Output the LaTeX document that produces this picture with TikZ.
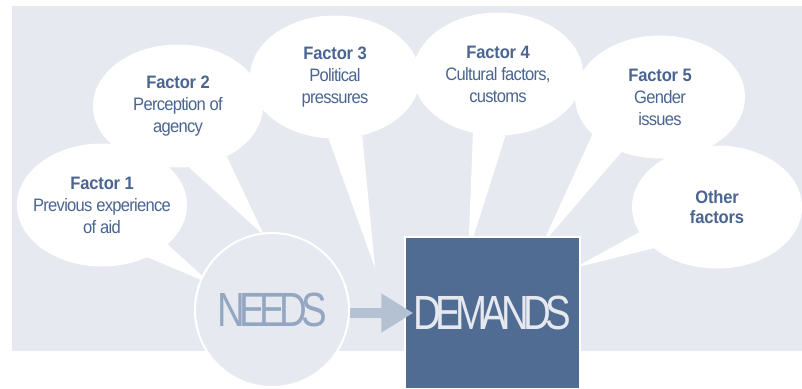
\documentclass[tikz,border=0pt]{standalone}
\usepackage{fontspec}
\setmainfont{Liberation Sans}[FakeStretch=0.92,LetterSpace=-4,BoldFeatures={LetterSpace=-1}]
\newfontfamily\wordfont{Liberation Sans}[FakeStretch=0.8,LetterSpace=-12]
\usetikzlibrary{shapes.geometric,arrows.meta,calc,backgrounds}
\definecolor{bggrey}{HTML}{E6E9EF}
\definecolor{textblue}{HTML}{4A6591}
\definecolor{boxblue}{HTML}{516C93}
\definecolor{needsblue}{HTML}{93A6C2}
\definecolor{arrowblue}{HTML}{B4C1D3}

\begin{document}
\begin{tikzpicture}[x=1pt,y=-1pt,
    bubble/.style={ellipse,fill=white,minimum width=170pt,minimum height=123pt,inner sep=0pt},
    factor/.style={text=textblue,align=center,font=\fontsize{18}{22}\selectfont}]
    \clip (0,0) rectangle (802,388);
    \node[bubble] (f1) at (102,205) {};
    \node[bubble] (f2) at (178,106) {};
    \node[bubble] (f3) at (335,77) {};
    \node[bubble] (f4) at (498,74) {};
    \node[bubble] (f5) at (660,97) {};
    \node[bubble] (other) at (717,207) {};
    \node[factor] (t1) at (f1) {\textbf{Factor 1}\\Previous experience\\of aid};
    \node[factor] (t2) at (f2) {\textbf{Factor 2}\\Perception of\\agency};
    \node[factor] (t3) at (f3) {\textbf{Factor 3}\\Political\\pressures};
    \node[factor] (t4) at (f4) {\textbf{Factor 4}\\Cultural factors,\\customs};
    \node[factor] (t5) at (f5) {\textbf{Factor 5}\\Gender\\issues};
    \node[factor,font=\fontsize{18}{20}\selectfont\bfseries] (t6) at (other) {Other\\factors};
    \node[circle,draw=white,line width=2pt,fill=bggrey,minimum size=154pt,inner sep=0pt,
        text=needsblue,font=\wordfont\fontsize{48}{48}\selectfont] (needs) at (272,310) {NEEDS};
    \node[rectangle,draw=white,line width=1.5pt,fill=boxblue,minimum width=175pt,minimum height=152pt,
        inner sep=0pt,text=bggrey,font=\wordfont\fontsize{48}{48}\selectfont] (demands) at (492.5,313) {DEMANDS};
    \draw[arrowblue,line width=10pt,-{Triangle[length=32pt,width=37pt]}]
        (needs.east |- demands.west) -- ([xshift=9pt]demands.west);
    \coordinate (tip3) at (375,268);
    \begin{scope}[on background layer]
        \fill[bggrey] (12,6) rectangle (802,351);
        \fill[white] (f1.-31) -- (f1.-49) -- ($(needs.center)!0.84!(needs.157)$) -- cycle;
        \fill[white] (f2.-80) -- (f2.-46) -- ($(needs.center)!0.96!(needs.96)$) -- cycle;
        \fill[white] (f3.-96) -- (f3.-65) -- (tip3) -- cycle;
        \fill[white] (f4.-113) -- (f4.-83) -- ($(demands.north west)+(64,17)$) -- cycle;
        \fill[white] (f5.-151) -- (f5.-125) -- ($(demands.north west)+(138,8)$) -- cycle;
        \fill[white] (other.-162) -- (other.-147) -- ($(demands.north east)+(-7,32)$) -- cycle;
    \end{scope}
\end{tikzpicture}
\end{document}
